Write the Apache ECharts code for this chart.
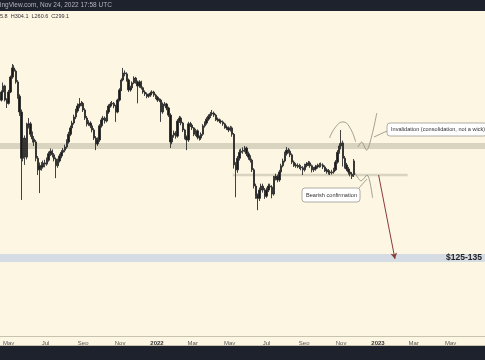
<!DOCTYPE html>
<html><head><meta charset="utf-8">
<script src="https://cdn.jsdelivr.net/npm/echarts@6/dist/echarts.min.js"></script>
<style>html,body{margin:0;padding:0;background:#fdf6e3;}#c{width:485px;height:360px;}</style>
</head><body><div id="c"></div>
<script>
// BNB/USD, 3-day candles starting 2021-04-16
const startDate = Date.UTC(2021, 3, 16);
const stepDays = 3;
const opens = [520,504,540,569,504,490,540,614,664,646,589,521,455,306,364,309,407,411,376,361,352,306,277,287,284,294,291,301,318,325,315,304,287,299,312,322,328,337,352,376,397,414,436,459,479,487,490,463,432,411,414,404,390,364,346,358,404,425,432,421,455,479,487,490,479,455,504,550,599,636,631,599,550,560,584,609,589,569,589,560,540,531,521,526,535,540,526,516,504,504,455,487,487,471,443,352,373,380,370,421,432,414,390,367,358,411,407,397,376,387,367,364,376,404,414,428,439,447,451,443,428,425,421,418,411,400,397,390,397,376,289,277,306,322,325,328,334,318,309,301,277,241,223,217,233,241,233,221,233,241,239,225,258,262,254,272,287,299,318,328,325,315,296,289,287,287,284,282,277,287,291,294,287,277,279,284,287,289,289,284,277,274,272,270,272,277,296,322,340,349,306,289,279,272,267,265.8];
const closes = [504,540,569,504,490,540,614,664,646,589,521,455,306,364,309,407,411,376,361,352,306,277,287,284,294,291,301,318,325,315,304,287,299,312,322,328,337,352,376,397,414,436,459,479,487,490,463,432,411,414,404,390,364,346,358,404,425,432,421,455,479,487,490,479,455,504,550,599,636,631,599,550,560,584,609,589,569,589,560,540,531,521,526,535,540,526,516,504,504,455,487,487,471,443,352,373,380,370,421,432,414,390,367,358,411,407,397,376,387,367,364,376,404,414,428,439,447,451,443,428,425,421,418,411,400,397,390,397,376,289,277,306,322,325,328,334,318,309,301,277,241,223,217,233,241,233,221,233,241,239,225,258,262,254,272,287,299,318,328,325,315,296,289,287,287,284,282,277,287,291,294,287,277,279,284,287,289,289,284,277,274,272,270,272,277,296,322,340,349,306,289,279,272,267,262,299.1];
const lows = [495,498,532,498,471,485,535,605,630,580,510,440,214,298,289,303,395,368,350,340,298,265,227,275,280,283,287,297,312,308,298,258,282,295,306,316,322,332,347,370,390,408,428,452,470,478,455,425,402,404,396,382,358,328,340,352,398,418,412,416,448,472,478,470,418,450,498,544,592,618,590,540,542,552,578,580,490,560,552,532,522,512,514,518,528,518,508,496,495,418,448,478,462,436,334,345,365,362,365,414,406,383,360,328,352,400,390,370,370,360,356,358,371,398,408,422,432,440,436,421,418,414,411,404,394,390,383,385,368,280,219,270,300,315,318,322,312,302,295,272,236,216,196,212,228,228,216,218,229,233,217,222,253,249,250,268,283,295,313,319,309,291,284,282,281,279,276,265,273,283,286,282,271,272,275,280,282,283,279,272,268,266,265,266,268,274,292,318,330,285,280,274,266,262,256,260.6];
const highs = [530,548,586,575,512,550,622,687,680,655,598,530,465,380,372,415,432,418,385,370,358,312,295,296,300,302,308,324,333,330,320,308,305,318,328,334,344,360,384,405,422,445,468,490,513,500,496,470,440,424,420,410,396,370,366,410,433,440,438,462,486,495,500,496,484,510,558,608,664,650,640,606,570,592,618,615,596,598,595,566,548,538,533,542,548,546,532,522,512,510,494,496,492,476,450,380,388,386,428,440,438,418,394,372,418,418,412,400,394,392,372,382,410,420,435,446,455,463,457,448,434,430,426,423,415,406,402,404,402,380,296,312,330,332,336,340,338,324,314,305,281,246,226,238,246,246,237,238,246,246,243,263,268,266,277,292,305,324,337,334,330,319,300,294,293,292,289,286,292,296,299,298,290,284,289,292,294,295,293,288,281,279,276,277,282,301,328,348,390,356,312,294,284,276,272,304.1];

// horizontal levels (USD)
const resistanceZone = [331, 349];
const supportLine = [262, 268];
const supportSpan = ['2022-05-06', '2023-02-19'];
const targetZone = [125.6, 134.5];
const targetLabel = '$125-135';

// x-axis tick labels
const tickDates = ['2021-05-01','2021-07-01','2021-09-01','2021-11-01','2022-01-01','2022-03-01','2022-05-01','2022-07-01','2022-09-01','2022-11-01','2023-01-01','2023-03-01','2023-05-01'];
const tickLabels = ['May','Jul','Sep','Nov','2022','Mar','May','Jul','Sep','Nov','2023','Mar','May'];

// hand-drawn projections [date, price]
const arcPath = [['2022-10-13',364],['2022-10-23',400],['2022-11-04',418],['2022-11-15',400],['2022-11-25',352]];
const invalidationPath = [['2022-11-29',337],['2022-12-05',352],['2022-12-13',328],['2022-12-22',373],['2022-12-30',451]];
const bearishPath = [['2022-11-24',270],['2022-12-04',252],['2022-12-14',265],['2022-12-23',218]];
const arrowPath = [['2023-01-02',265],['2023-01-29',129]];

const DAY = 86400000;
const ts = d => Date.parse(d + 'T00:00:00Z');
const n = Math.min(opens.length, closes.length, lows.length, highs.length);
const candles = [];
for (let i = 0; i < n; i++) {
  candles.push([startDate + i * stepDays * DAY, opens[i], closes[i], lows[i], highs[i]]);
}
const toPts = arr => arr.map(p => [ts(p[0]), p[1]]);
const tickTs = tickDates.map(ts);
const labelMap = {};
tickTs.forEach((t, i) => labelMap[t] = tickLabels[i]);
const xMin = Date.UTC(2021, 3, 16, 17), xMax = Date.UTC(2023, 5, 26, 17);

const chart = echarts.init(document.getElementById('c'), null, {renderer: 'canvas'});
const grey = '#8c8a80';
const font = 'Liberation Sans, Arial, sans-serif';
const arrowPts = toPts(arrowPath);
chart.setOption({
  backgroundColor: '#fdf6e3',
  animation: false,
  grid: {left: 0, right: 0, top: 12, bottom: 24},
  xAxis: [{
    type: 'value', min: xMin, max: xMax,
    axisLine: {show: true, onZero: false, lineStyle: {color: '#c8c3ae', width: 1}},
    axisTick: {show: false},
    splitLine: {show: false},
    axisLabel: {
      customValues: tickTs,
      margin: 4,
      fontSize: 6,
      color: '#555',
      fontFamily: font,
      formatter: v => {
        const s = labelMap[v] || '';
        return /^\d{4}$/.test(s) ? '{b|' + s + '}' : s;
      },
      rich: {b: {fontWeight: 'bold', fontSize: 6, color: '#333', fontFamily: font}}
    }
  }],
  yAxis: {
    type: 'log', logBase: 10, min: 66.6, max: 1073,
    show: false, splitLine: {show: false}
  },
  series: [
    {
      type: 'line', data: [], z: 1, silent: true,
      markArea: {
        silent: true,
        data: [
          [{yAxis: resistanceZone[0], itemStyle: {color: '#d9d4c0'}}, {yAxis: resistanceZone[1]}],
          [{yAxis: supportLine[0], xAxis: ts(supportSpan[0]), itemStyle: {color: '#d9d4c0'}}, {yAxis: supportLine[1], xAxis: ts(supportSpan[1])}],
          [{yAxis: targetZone[0], itemStyle: {color: '#d6dce4'},
            label: {show: true, position: 'insideRight', formatter: targetLabel, fontSize: 8.5, fontWeight: 'bold', color: '#222', fontFamily: font, distance: 3}},
           {yAxis: targetZone[1]}]
        ]
      },
      markLine: {
        silent: true,
        symbol: ['none', 'arrow'],
        symbolSize: [5, 6],
        label: {show: false},
        lineStyle: {color: '#8a3a3a', width: 1, type: 'solid'},
        data: [[{coord: arrowPts[0]}, {coord: arrowPts[1]}]]
      }
    },
    {
      type: 'candlestick', data: candles, z: 3, barWidth: 1.9,
      itemStyle: {color: '#1a1a1a', color0: '#1a1a1a', borderColor: '#2e2e2e', borderColor0: '#2e2e2e', borderWidth: 0.9}
    },
    {type: 'line', data: toPts(arcPath), smooth: true, symbol: 'none', z: 4, lineStyle: {color: grey, width: 0.8}},
    {type: 'line', data: toPts(invalidationPath), smooth: 0.3, symbol: 'none', z: 4, lineStyle: {color: grey, width: 0.8}},
    {type: 'line', data: toPts(bearishPath), smooth: 0.3, symbol: 'none', z: 4, lineStyle: {color: grey, width: 0.8}}
  ],
  graphic: [
    {type: 'rect', shape: {x: 0, y: 0, width: 485, height: 11}, style: {fill: '#1e222d'}, z: 10},
    {type: 'text', x: 0, y: 5.5, style: {text: 'ingView.com, Nov 24, 2022 17:58 UTC', fill: '#b2b5be', fontSize: 6.5, fontFamily: font, verticalAlign: 'middle'}, z: 11},
    {type: 'text', x: 0, y: 16.5, style: {text: '5.8  H304.1  L260.6  C299.1', fill: '#333', fontSize: 5.5, fontFamily: font, verticalAlign: 'middle'}, z: 11},
    {type: 'rect', shape: {x: 0, y: 346, width: 485, height: 14}, style: {fill: '#1e222d'}, z: 10},
    {type: 'line', shape: {x1: 0, y1: 345.5, x2: 485, y2: 345.5}, style: {stroke: '#c8c3ae', lineWidth: 1}, z: 10},
    {type: 'line', shape: {x1: 387, y1: 131, x2: 374, y2: 137}, style: {stroke: grey, lineWidth: 0.8}, z: 10},
    {type: 'rect', shape: {x: 387, y: 123, width: 100, height: 13, r: 3}, style: {fill: '#ffffff', stroke: '#9a9a90', lineWidth: 0.8}, z: 10},
    {type: 'text', x: 391, y: 129.5, style: {text: 'Invalidation (consolidation, not a wick)', fill: '#333', fontSize: 5.6, fontFamily: font, verticalAlign: 'middle'}, z: 11},
    {type: 'line', shape: {x1: 358, y1: 189, x2: 367, y2: 179}, style: {stroke: grey, lineWidth: 0.8}, z: 10},
    {type: 'rect', shape: {x: 302, y: 188, width: 58, height: 14, r: 3}, style: {fill: '#ffffff', stroke: '#9a9a90', lineWidth: 0.8}, z: 10},
    {type: 'text', x: 306, y: 195, style: {text: 'Bearish confirmation', fill: '#333', fontSize: 5.6, fontFamily: font, verticalAlign: 'middle'}, z: 11}
  ]
});
</script></body></html>
